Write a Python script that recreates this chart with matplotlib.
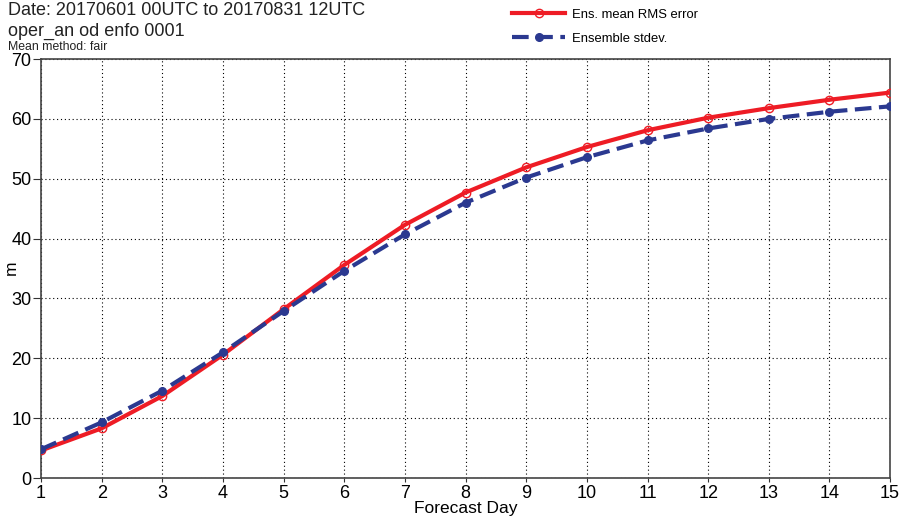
import numpy as np
import matplotlib
matplotlib.use('Agg')
import matplotlib.pyplot as plt

plt.rcParams['font.family'] = ['Liberation Sans', 'DejaVu Sans']

days = np.arange(1, 16)
rms_error = [4.6, 8.3, 13.7, 20.6, 28.2, 35.6, 42.3, 47.7, 51.9, 55.3, 58.1, 60.2, 61.8, 63.2, 64.4]
ens_stdev = [4.8, 9.3, 14.6, 21.0, 27.9, 34.6, 40.7, 46.0, 50.2, 53.6, 56.4, 58.4, 60.0, 61.2, 62.1]

fig = plt.figure(figsize=(9, 5.18), dpi=100)
ax = fig.add_axes([0.0456, 0.0772, 0.9434, 0.8088])

ax.plot(days, rms_error, color='#ee1c25', lw=3, marker='o', ms=6,
        mfc='none', mec='#ee1c25', mew=1, label='Ens. mean RMS error', zorder=3)
ax.plot(days, ens_stdev, color='#2b3990', lw=3, ls=(0, (4, 1.8)), marker='o', ms=5.5,
        mfc='#2b3990', mec='#2b3990', label='Ensemble stdev.', zorder=3)

ax.set_xlim(1, 15)
ax.set_ylim(0, 70)
ax.set_xticks(days)
ax.set_yticks(range(0, 71, 10))
ax.grid(True, color='black', ls=(0, (1, 2.5)), lw=0.8)
ax.tick_params(axis='y', labelsize=13, length=6, pad=1, direction='out', color='#333333')
ax.tick_params(axis='x', labelsize=13, length=3, pad=2, direction='out', color='#333333')
for s in ax.spines.values():
    s.set_color('#444444')
    s.set_linewidth(1.2)

ax.set_xlabel('Forecast Day', fontsize=12.5, labelpad=-1)
fig.text(0.0125, 0.483, 'm', fontsize=12.5, rotation=90, ha='center', va='center')

fig.text(0.009, 0.996, 'Date: 20170601 00UTC to 20170831 12UTC', fontsize=13,
         color='#222222', va='top')
fig.text(0.009, 0.955, 'oper_an od enfo 0001', fontsize=13, color='#222222', va='top')
fig.text(0.009, 0.921, 'Mean method: fair', fontsize=8.8, color='#222222', va='top')

ax.legend(loc='lower left', bbox_to_anchor=(0.549, 1.022), frameon=False, fontsize=9.4,
          handlelength=4.0, labelspacing=0.9, borderaxespad=0, handletextpad=0.6)

fig.savefig('out.png', dpi=100)
